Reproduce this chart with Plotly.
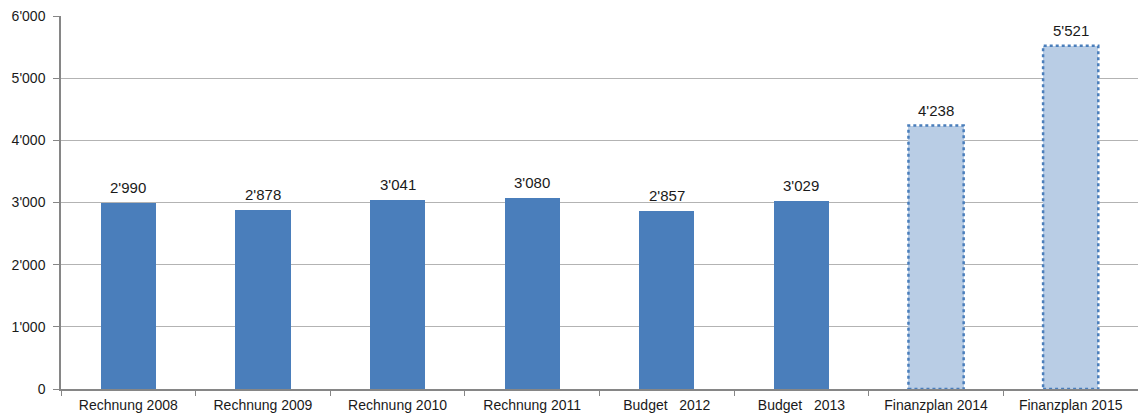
import plotly.graph_objects as go

categories = ["Rechnung 2008", "Rechnung 2009", "Rechnung 2010", "Rechnung 2011",
              "Budget\u00a0\u00a0 2012", "Budget\u00a0\u00a0 2013", "Finanzplan 2014", "Finanzplan 2015"]
values = [2990, 2878, 3041, 3080, 2857, 3029, 4238, 5521]
is_plan = [False, False, False, False, False, False, True, True]
y_ticks = [0, 1000, 2000, 3000, 4000, 5000, 6000]

DARK = "#4a7ebb"
LIGHT = "#b9cde5"
FONT = "Liberation Sans, Arial, sans-serif"
BAR_W = 0.41

fig = go.Figure()
fig.add_trace(go.Bar(
    x=categories, y=values, width=BAR_W,
    marker=dict(color=[LIGHT if p else DARK for p in is_plan], line=dict(width=0)),
    hoverinfo="x+y",
))

# dotted outlines for planned bars
for i, (v, p) in enumerate(zip(values, is_plan)):
    if p:
        fig.add_shape(type="rect", xref="x", yref="y",
                      x0=i - BAR_W / 2, x1=i + BAR_W / 2, y0=0, y1=v,
                      line=dict(color=DARK, width=2.5, dash="dot"))

for c, v in zip(categories, values):
    fig.add_annotation(x=c, y=v, text=f"{v:,}".replace(",", "'"), showarrow=False,
                       yanchor="bottom", yshift=5, font=dict(size=15, color="#1a1a1a", family=FONT))

fig.update_layout(
    width=1138, height=414,
    margin=dict(l=61, r=0, t=16, b=25),
    paper_bgcolor="white", plot_bgcolor="white",
    separators=".'",
    showlegend=False,
    font=dict(family=FONT, size=14, color="#1a1a1a"),
    bargap=0,
)
fig.update_xaxes(
    type="category", showline=True, linecolor="#868686", linewidth=1.5,
    ticks="outside", tickson="boundaries", ticklen=5, tickcolor="#868686",
    showgrid=False, tickfont=dict(size=14, color="#1a1a1a"),
    ticklabelstandoff=2,
    range=[-0.5, len(categories) - 0.5],
)
fig.update_yaxes(
    range=[0, 6000], tickvals=y_ticks, tickformat=",",
    showline=True, linecolor="#868686", linewidth=1.5,
    ticks="outside", ticklen=6, tickcolor="#868686",
    showgrid=True, gridcolor="#b3b3b3", gridwidth=1,
    zeroline=False, tickfont=dict(size=14, color="#1a1a1a"),
    ticklabelstandoff=5,
)

fig.write_html("out.html")
